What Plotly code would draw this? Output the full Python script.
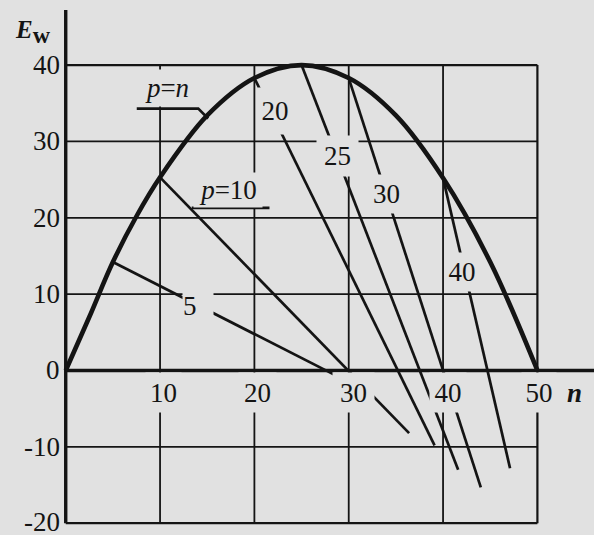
import plotly.graph_objects as go

BG = '#e1e1e1'
INK = '#141414'
FONT = 'Liberation Serif'

# p = n envelope
curve_n = [0, 2.5, 5, 7.5, 10, 15, 20, 25, 30, 35, 40, 45, 50]
curve_e = [0, 7.0, 14.2, 20.2, 25.3, 33.4, 38.3, 40.0, 38.3, 33.4, 25.2, 14.2, 0]

# fixed-p lines: start on the envelope, run down past the axis
p_labels = ['5', '10', '20', '25', '30', '40']
line_n0 = [5, 10, 20, 25, 30, 40]
line_e0 = [14.2, 25.3, 38.3, 40.0, 38.3, 25.2]
line_n1 = [29.5, 36.4, 39.1, 41.6, 44.0, 47.1]
line_e1 = [-1.2, -8.2, -9.8, -13.0, -15.3, -12.8]

x_ticks = [10, 20, 30, 40, 50]
y_ticks = [40, 30, 20, 10, 0, -10, -20]

fig = go.Figure()

fig.add_trace(go.Scatter(
    x=curve_n, y=curve_e, mode='lines',
    line=dict(color=INK, width=4.6, shape='spline'),
    hoverinfo='skip'
))

for n0, e0, n1, e1 in zip(line_n0, line_e0, line_n1, line_e1):
    fig.add_trace(go.Scatter(
        x=[n0, n1], y=[e0, e1], mode='lines',
        line=dict(color=INK, width=2.7),
        hoverinfo='skip'
    ))

# frame, grid and axes
shapes = []
def seg(x0, y0, x1, y1, w):
    shapes.append(dict(type='line', xref='x', yref='y', x0=x0, y0=y0, x1=x1, y1=y1,
                       line=dict(color=INK, width=w)))

for yv in [30, 20, 10, -10]:
    seg(0, yv, 50, yv, 1.8)
for xv in [10, 20, 30, 40]:
    seg(xv, -20, xv, 40, 1.8)
seg(0, 40, 50, 40, 2.2)
seg(0, -20, 50, -20, 2.2)
seg(50, -20, 50, 40, 2.2)
seg(0, -20, 0, 47.2, 3.4)
seg(0, 0, 56, 0, 3.4)
# leaders for the p=n and p=10 labels
shapes.append(dict(type='path', xref='x', yref='y',
                   path='M 7.53 34.3 L 14.05 34.3 L 15.1 33.0',
                   line=dict(color=INK, width=2.6)))
seg(13.36, 21.3, 21.6, 21.3, 2.6)

annotations = []
def label(x, y, text, w, h, size=27, align='center'):
    annotations.append(dict(
        x=x, y=y, xref='x', yref='y', text=text, showarrow=False,
        font=dict(family=FONT, size=size, color=INK),
        bgcolor=BG, width=w, height=h, borderpad=0, align=align
    ))

# curve labels (boxes also break the lines behind them)
label(10.74, 37.0, '<i>p</i>=<i>n</i>', 62, 36)
pos = {
    '5': (14.02, 8.45, 30, 26, 'left'),
    '10': (17.2, 23.64, 68, 34, 'center'),
    '20': (22.19, 33.99, 34, 46, 'center'),
    '25': (28.81, 28.1, 41, 40, 'center'),
    '30': (34.0, 23.11, 37, 38, 'center'),
    '40': (42.0, 12.9, 32, 38, 'center'),
}
for p in p_labels:
    x, y, w, h, al = pos[p]
    txt = '<i>p</i>=' + p if p == '10' else p
    label(x, y, txt, w, h, align=al)

# x tick labels
tick_box = {10: (10.37, 35), 20: (20.33, 37), 30: (30.5, 41), 40: (40.53, 36), 50: (50.17, 34)}
for t in x_ticks:
    x, w = tick_box[t]
    label(x, -2.88, str(t), w, 39)

# y tick labels
for t in y_ticks:
    annotations.append(dict(
        x=0, y=t, xref='x', yref='y', text=str(t), showarrow=False,
        xanchor='right', xshift=-4, yshift=1 if t == -20 else 0,
        font=dict(family=FONT, size=27, color=INK)
    ))

annotations.append(dict(x=53.88, y=-2.95, xref='x', yref='y', text='<b><i>n</i></b>',
                        showarrow=False, font=dict(family=FONT, size=27, color=INK)))
annotations.append(dict(x=0, y=44.3, xref='x', yref='y',
                        text="<b><i>E</i></b><sub><span style='font-size:24px'><b>w</b></span></sub>",
                        showarrow=False, xanchor='right', xshift=-13,
                        font=dict(family=FONT, size=25, color=INK)))

fig.update_layout(
    width=594, height=535,
    margin=dict(l=61, r=0, t=4, b=8),
    paper_bgcolor=BG, plot_bgcolor=BG,
    showlegend=False,
    xaxis=dict(visible=False, range=[-0.5, 56]),
    yaxis=dict(visible=False, range=[-20.5, 48]),
    shapes=shapes, annotations=annotations
)

fig.write_html("out.html", config={'displayModeBar': False},
               post_script="document.body.style.margin='0';document.body.style.background='%s';" % BG)
